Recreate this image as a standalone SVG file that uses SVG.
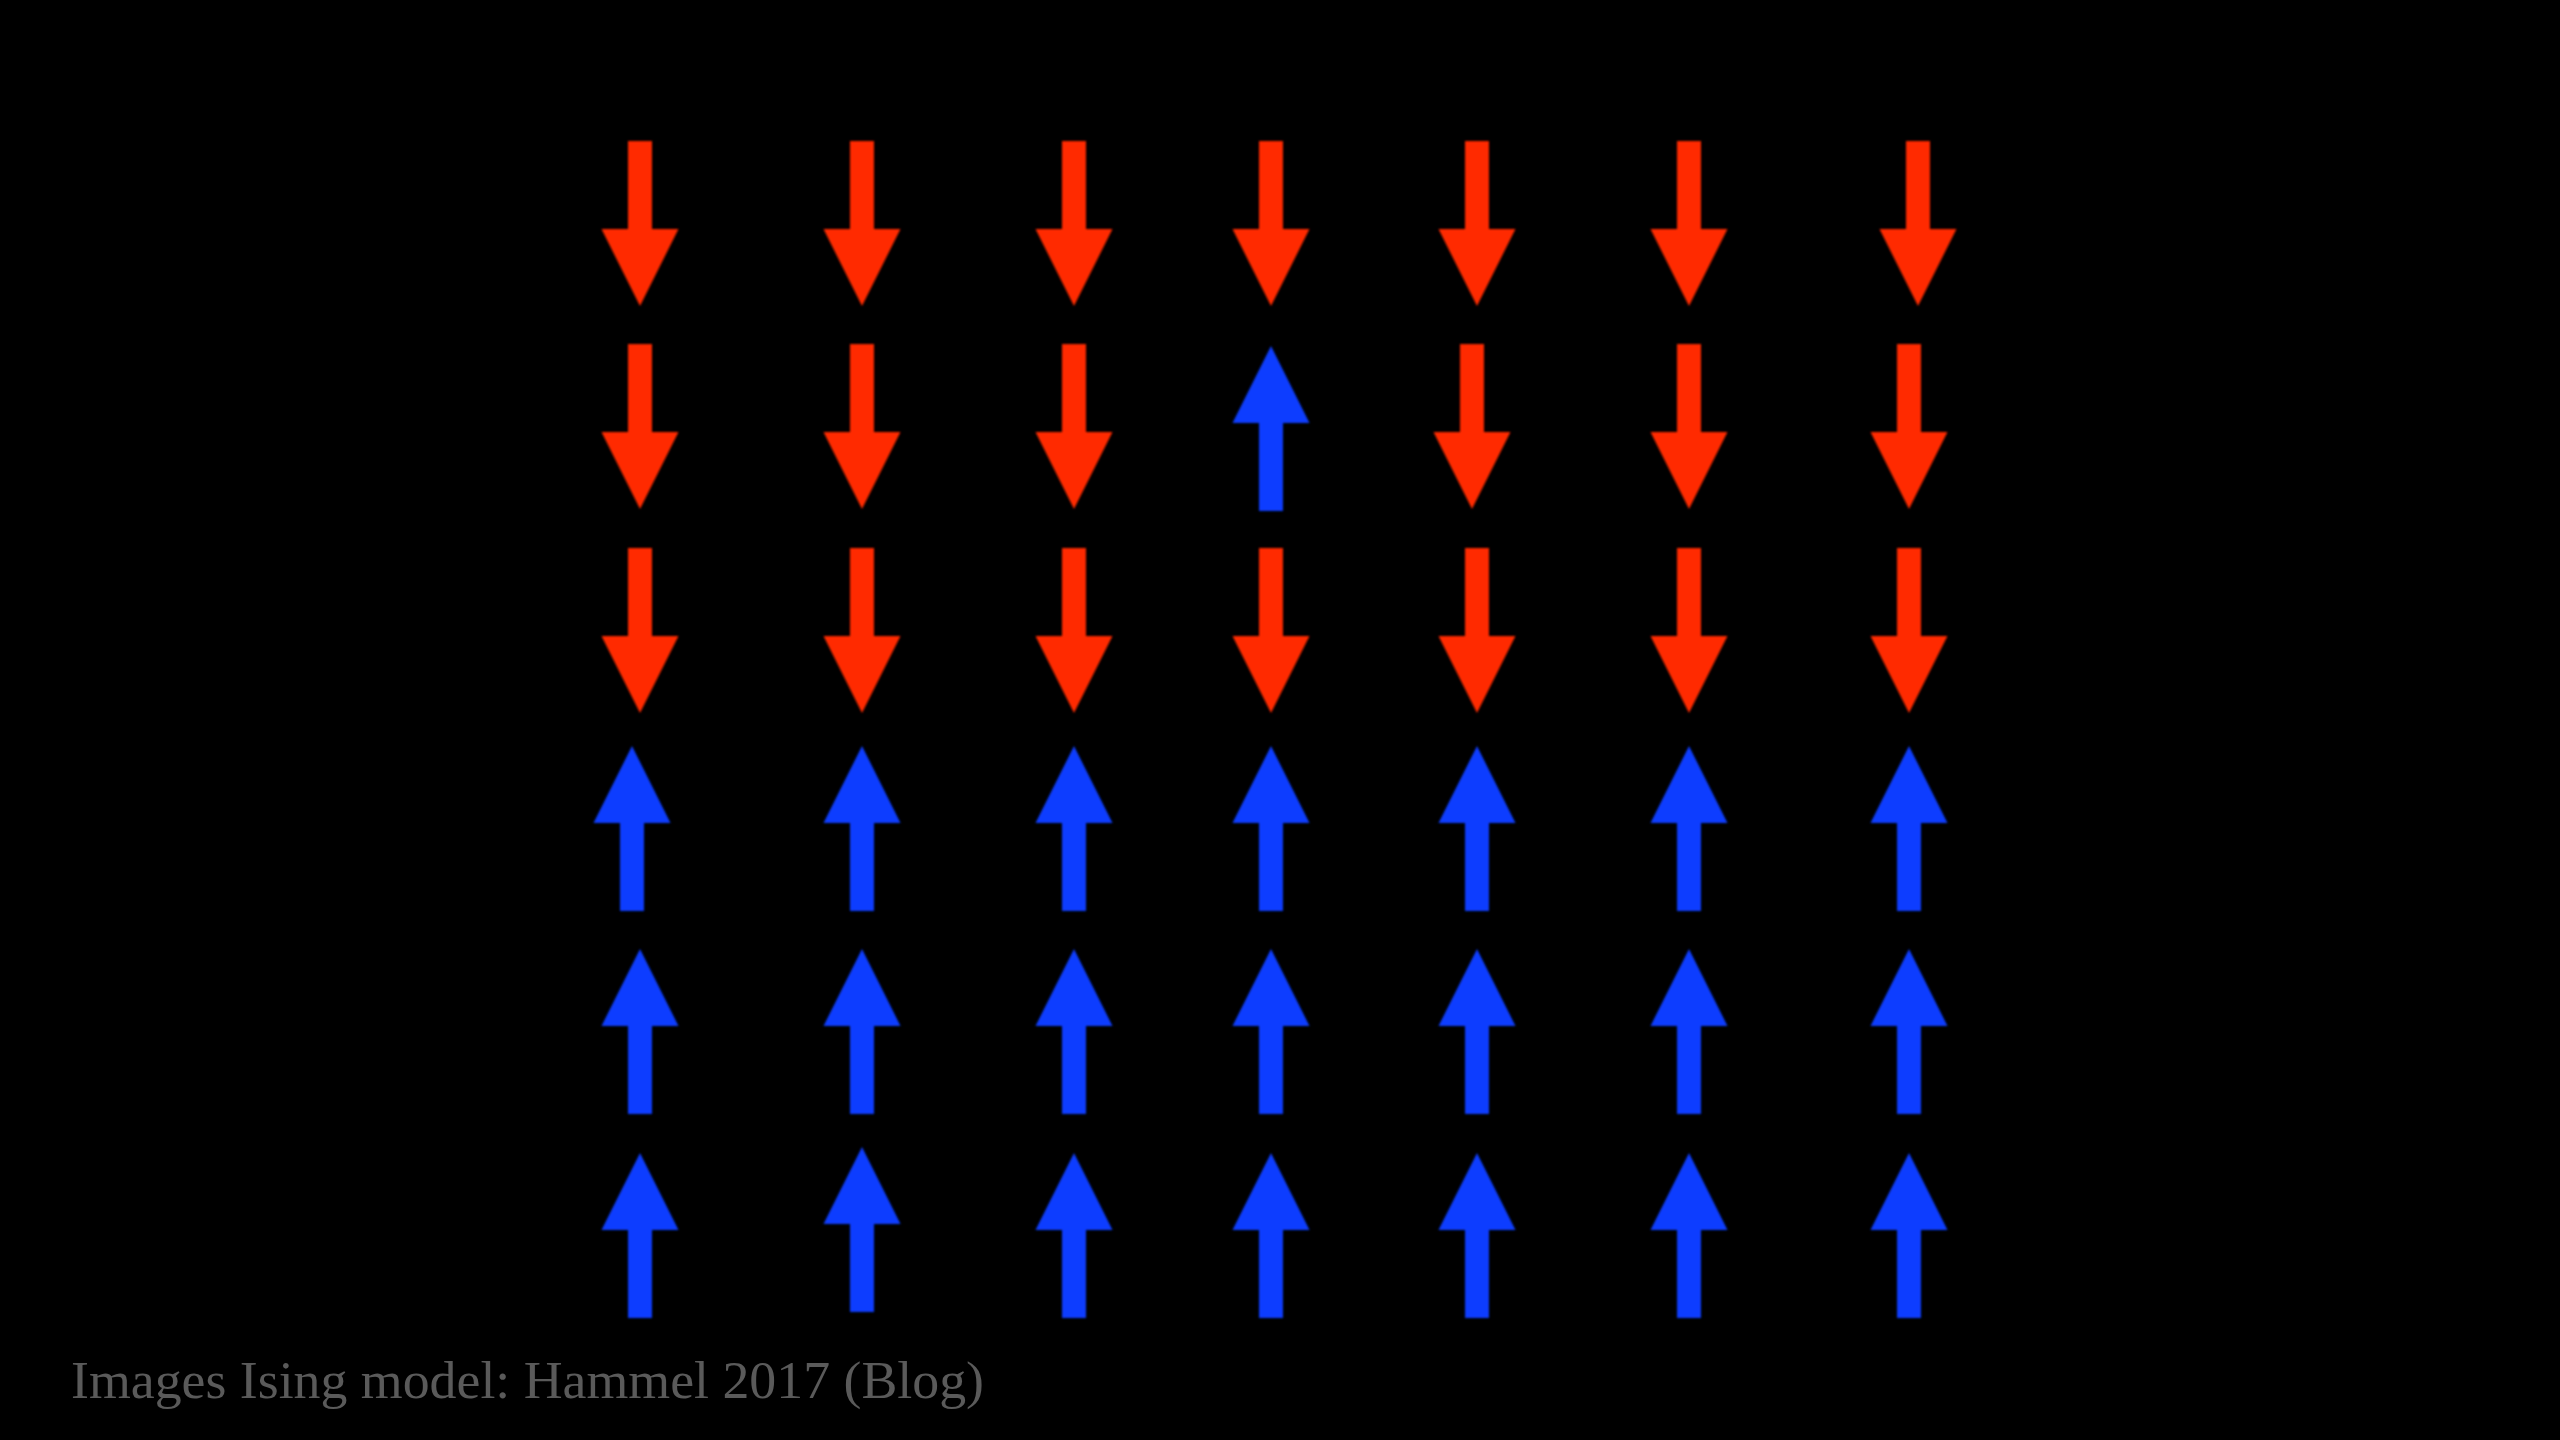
<svg xmlns="http://www.w3.org/2000/svg" xmlns:xlink="http://www.w3.org/1999/xlink" width="2560" height="1440" viewBox="0 0 2560 1440">
<style>
.dn{fill:#FF2B00}
.up{fill:#0B3DFF}
.cap{font-family:"Liberation Serif","DejaVu Serif",serif;font-size:53px;fill:#5A5A5A}
</style>
<defs>
<filter id="soft" x="-10%" y="-10%" width="120%" height="120%"><feGaussianBlur stdDeviation="1"/></filter>
<path id="down" d="M-12,0 H12 V88 H38.5 L0,165 L-38.5,88 H-12 Z"/>
<path id="upA" d="M0,0 L38.5,77 H12 V165 H-12 V77 H-38.5 Z"/>
</defs>
<rect width="2560" height="1440" fill="#000"/>
<g id="connectors"/>
<g filter="url(#soft)">
<!-- Row 1 -->
<g id="r1c1" class="dn"><use href="#down" x="640" y="141"/></g>
<g id="r1c2" class="dn"><use href="#down" x="862" y="141"/></g>
<g id="r1c3" class="dn"><use href="#down" x="1074" y="141"/></g>
<g id="r1c4" class="dn"><use href="#down" x="1271" y="141"/></g>
<g id="r1c5" class="dn"><use href="#down" x="1477" y="141"/></g>
<g id="r1c6" class="dn"><use href="#down" x="1689" y="141"/></g>
<g id="r1c7" class="dn"><use href="#down" x="1918" y="141"/></g>
<!-- Row 2 -->
<g id="r2c1" class="dn"><use href="#down" x="640" y="344"/></g>
<g id="r2c2" class="dn"><use href="#down" x="862" y="344"/></g>
<g id="r2c3" class="dn"><use href="#down" x="1074" y="344"/></g>
<g id="r2c4" class="up"><use href="#upA" x="1271" y="346"/></g>
<g id="r2c5" class="dn"><use href="#down" x="1472" y="344"/></g>
<g id="r2c6" class="dn"><use href="#down" x="1689" y="344"/></g>
<g id="r2c7" class="dn"><use href="#down" x="1909" y="344"/></g>
<!-- Row 3 -->
<g id="r3c1" class="dn"><use href="#down" x="640" y="548"/></g>
<g id="r3c2" class="dn"><use href="#down" x="862" y="548"/></g>
<g id="r3c3" class="dn"><use href="#down" x="1074" y="548"/></g>
<g id="r3c4" class="dn"><use href="#down" x="1271" y="548"/></g>
<g id="r3c5" class="dn"><use href="#down" x="1477" y="548"/></g>
<g id="r3c6" class="dn"><use href="#down" x="1689" y="548"/></g>
<g id="r3c7" class="dn"><use href="#down" x="1909" y="548"/></g>
<!-- Row 4 -->
<g id="r4c1" class="up"><use href="#upA" x="632" y="746"/></g>
<g id="r4c2" class="up"><use href="#upA" x="862" y="746"/></g>
<g id="r4c3" class="up"><use href="#upA" x="1074" y="746"/></g>
<g id="r4c4" class="up"><use href="#upA" x="1271" y="746"/></g>
<g id="r4c5" class="up"><use href="#upA" x="1477" y="746"/></g>
<g id="r4c6" class="up"><use href="#upA" x="1689" y="746"/></g>
<g id="r4c7" class="up"><use href="#upA" x="1909" y="746"/></g>
<!-- Row 5 -->
<g id="r5c1" class="up"><use href="#upA" x="640" y="949"/></g>
<g id="r5c2" class="up"><use href="#upA" x="862" y="949"/></g>
<g id="r5c3" class="up"><use href="#upA" x="1074" y="949"/></g>
<g id="r5c4" class="up"><use href="#upA" x="1271" y="949"/></g>
<g id="r5c5" class="up"><use href="#upA" x="1477" y="949"/></g>
<g id="r5c6" class="up"><use href="#upA" x="1689" y="949"/></g>
<g id="r5c7" class="up"><use href="#upA" x="1909" y="949"/></g>
<!-- Row 6 -->
<g id="r6c1" class="up"><use href="#upA" x="640" y="1153"/></g>
<g id="r6c2" class="up"><use href="#upA" x="862" y="1147"/></g>
<g id="r6c3" class="up"><use href="#upA" x="1074" y="1153"/></g>
<g id="r6c4" class="up"><use href="#upA" x="1271" y="1153"/></g>
<g id="r6c5" class="up"><use href="#upA" x="1477" y="1153"/></g>
<g id="r6c6" class="up"><use href="#upA" x="1689" y="1153"/></g>
<g id="r6c7" class="up"><use href="#upA" x="1909" y="1153"/></g>
</g>
<g id="caption"><text class="cap" x="71" y="1398" textLength="913" lengthAdjust="spacingAndGlyphs">Images Ising model: Hammel 2017 (Blog)</text></g>
</svg>
